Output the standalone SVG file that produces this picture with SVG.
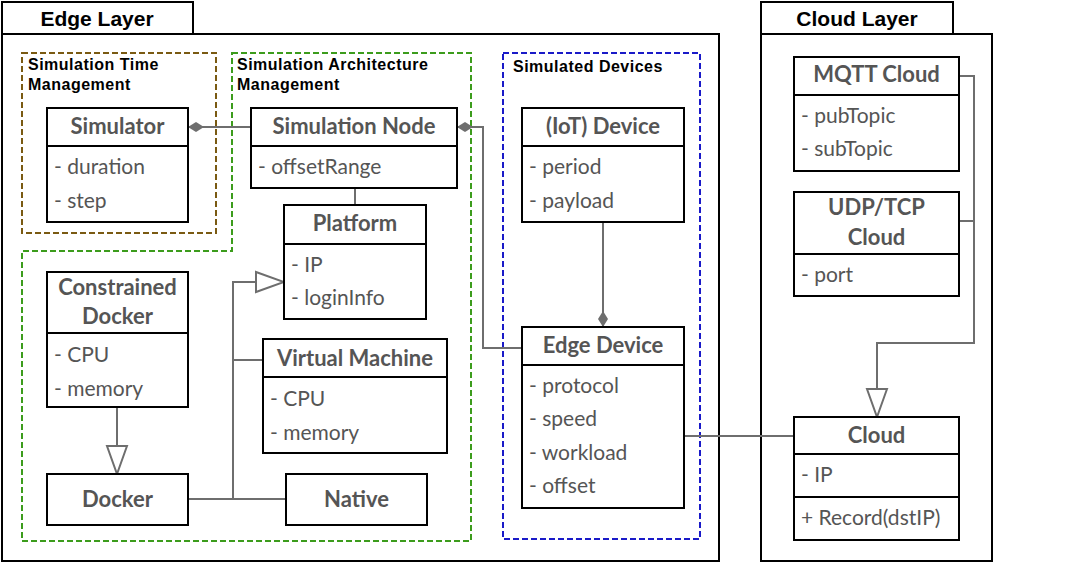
<svg xmlns="http://www.w3.org/2000/svg" width="1080" height="564" viewBox="0 0 1080 564">
<style>
.layer{fill:#fff;stroke:#000;stroke-width:2}
.box{fill:#fff;stroke:#000;stroke-width:2}
.div{stroke:#000;stroke-width:2}
.lt{font-family:"Liberation Sans",Arial,sans-serif;font-weight:bold;font-size:21px;fill:#000;text-anchor:middle}
.gt{font-family:"Liberation Sans",Arial,sans-serif;font-weight:bold;font-size:16px;letter-spacing:0.5px;fill:#000}
.h{font-family:Lato,"Open Sans",sans-serif;font-weight:bold;font-size:22px;fill:#555;text-anchor:middle}
.a{font-family:Lato,"Open Sans",sans-serif;font-size:21px;fill:#555}
.con{fill:none;stroke:#6e6e6e;stroke-width:2}
.grp{fill:none;stroke-width:2;stroke-dasharray:6 3}
</style>
<defs>
<marker id="dia" markerUnits="userSpaceOnUse" markerWidth="18" markerHeight="12" viewBox="-1 -1 18 12" refX="16" refY="5" orient="auto">
<path d="M0,5 L8,0 L16,5 L8,10 Z" fill="#6e6e6e"/>
</marker>
<marker id="tri" markerUnits="userSpaceOnUse" markerWidth="32" markerHeight="24" viewBox="-2 -2 32 24" refX="28" refY="10" orient="auto">
<path d="M0,0 L28,10 L0,20 Z" fill="#fff" stroke="#6e6e6e" stroke-width="2"/>
</marker>
</defs>
<rect width="1080" height="564" fill="#fff"/>
<g id="edge-layer">
<rect class="layer" x="2" y="34" width="717" height="527"/>
<rect class="layer" x="2" y="2" width="191" height="32"/>
<text class="lt" x="97" y="26">Edge Layer</text>
</g>
<g id="cloud-layer">
<rect class="layer" x="761" y="34" width="231" height="527"/>
<rect class="layer" x="761" y="2" width="192" height="32"/>
<text class="lt" x="857" y="26">Cloud Layer</text>
</g>
<g id="sim-time-mgmt">
<rect class="grp" x="22" y="53" width="194" height="180" stroke="#7a5a12"/>
<text class="gt" x="28" y="70">Simulation Time</text>
<text class="gt" x="28" y="90">Management</text>
</g>
<g id="sim-arch-mgmt">
<path class="grp" d="M232,53 H471 V541 H22 V251 H232 Z" stroke="#3c9c1c"/>
<text class="gt" x="237" y="70">Simulation Architecture</text>
<text class="gt" x="237" y="90">Management</text>
</g>
<g id="sim-devices">
<rect class="grp" x="503" y="53" width="197" height="486" stroke="#1a1ac8"/>
<text class="gt" x="513" y="72">Simulated Devices</text>
</g>
<g id="connectors">
<path class="con" d="M251,127 H188" marker-end="url(#dia)"/>
<path class="con" d="M522,348 H483 V127 H457" marker-end="url(#dia)"/>
<path class="con" d="M355,188 V205"/>
<path class="con" d="M603,222 V327" marker-end="url(#dia)"/>
<path class="con" d="M684,436 H794"/>
<path class="con" d="M959,76 H974 V343 H877 V417" marker-end="url(#tri)"/>
<path class="con" d="M959,221 H974"/>
<path class="con" d="M117,407 V474" marker-end="url(#tri)"/>
<path class="con" d="M188,499 H233 V282 H284" marker-end="url(#tri)"/>
<path class="con" d="M286,499 H233"/>
<path class="con" d="M263,360 H233"/>
</g>
<g id="simulator">
<rect class="box" x="47" y="108" width="141" height="114"/>
<line class="div" x1="47" y1="146" x2="188" y2="146"/>
<text class="h" x="117.5" y="134">Simulator</text>
<text class="a" x="54" y="174">- duration</text>
<text class="a" x="54" y="208">- step</text>
</g>
<g id="simulation-node">
<rect class="box" x="251" y="108" width="206" height="80"/>
<line class="div" x1="251" y1="146" x2="457" y2="146"/>
<text class="h" x="354" y="134">Simulation Node</text>
<text class="a" x="258" y="174">- offsetRange</text>
</g>
<g id="platform">
<rect class="box" x="284" y="205" width="142" height="114"/>
<line class="div" x1="284" y1="244" x2="426" y2="244"/>
<text class="h" x="355" y="231">Platform</text>
<text class="a" x="291" y="272">- IP</text>
<text class="a" x="291" y="305">- loginInfo</text>
</g>
<g id="constrained-docker">
<rect class="box" x="47" y="272" width="141" height="135"/>
<line class="div" x1="47" y1="333" x2="188" y2="333"/>
<text class="h" x="117.5" y="295">Constrained</text>
<text class="h" x="117.5" y="324">Docker</text>
<text class="a" x="54" y="362">- CPU</text>
<text class="a" x="54" y="396">- memory</text>
</g>
<g id="virtual-machine">
<rect class="box" x="263" y="339" width="184" height="114"/>
<line class="div" x1="263" y1="377" x2="447" y2="377"/>
<text class="h" x="355" y="366">Virtual Machine</text>
<text class="a" x="270" y="406">- CPU</text>
<text class="a" x="270" y="440">- memory</text>
</g>
<g id="docker">
<rect class="box" x="47" y="474" width="141" height="51"/>
<text class="h" x="117.5" y="507">Docker</text>
</g>
<g id="native">
<rect class="box" x="286" y="474" width="141" height="51"/>
<text class="h" x="356.5" y="507">Native</text>
</g>
<g id="iot-device">
<rect class="box" x="522" y="108" width="162" height="114"/>
<line class="div" x1="522" y1="146" x2="684" y2="146"/>
<text class="h" x="603" y="134">(IoT) Device</text>
<text class="a" x="529" y="174">- period</text>
<text class="a" x="529" y="208">- payload</text>
</g>
<g id="edge-device">
<rect class="box" x="522" y="327" width="162" height="181"/>
<line class="div" x1="522" y1="365" x2="684" y2="365"/>
<text class="h" x="603" y="353">Edge Device</text>
<text class="a" x="529" y="393">- protocol</text>
<text class="a" x="529" y="426">- speed</text>
<text class="a" x="529" y="460">- workload</text>
<text class="a" x="529" y="493">- offset</text>
</g>
<g id="mqtt-cloud">
<rect class="box" x="794" y="57" width="165" height="114"/>
<line class="div" x1="794" y1="95" x2="959" y2="95"/>
<text class="h" x="876.5" y="82">MQTT Cloud</text>
<text class="a" x="801" y="123">- pubTopic</text>
<text class="a" x="801" y="156">- subTopic</text>
</g>
<g id="udp-tcp-cloud">
<rect class="box" x="794" y="192" width="165" height="104"/>
<line class="div" x1="794" y1="254" x2="959" y2="254"/>
<text class="h" x="876.5" y="215">UDP/TCP</text>
<text class="h" x="876.5" y="245">Cloud</text>
<text class="a" x="801" y="282">- port</text>
</g>
<g id="cloud">
<rect class="box" x="794" y="417" width="165" height="123"/>
<line class="div" x1="794" y1="454" x2="959" y2="454"/>
<line class="div" x1="794" y1="497" x2="959" y2="497"/>
<text class="h" x="876.5" y="443">Cloud</text>
<text class="a" x="801" y="482">- IP</text>
<text class="a" x="801" y="525">+ Record(dstIP)</text>
</g>
</svg>
